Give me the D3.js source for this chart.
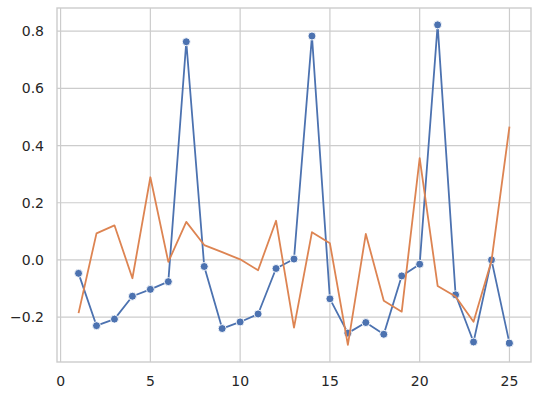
<!DOCTYPE html>
<html>
<head>
<meta charset="utf-8">
<script src="https://cdn.jsdelivr.net/npm/d3@7"></script>
<style>
  html, body { margin: 0; padding: 0; background: #ffffff; }
  svg { display: block; }
</style>
</head>
<body>
<svg id="chart" width="540" height="398"></svg>
<script>
const xValues = [1,2,3,4,5,6,7,8,9,10,11,12,13,14,15,16,17,18,19,20,21,22,23,24,25];
const blueValues = [-0.047,-0.230,-0.207,-0.127,-0.103,-0.076,0.763,-0.023,-0.240,-0.217,-0.189,-0.030,0.003,0.783,-0.136,-0.256,-0.219,-0.260,-0.056,-0.015,0.822,-0.122,-0.287,0.000,-0.291];
const orangeValues = [-0.186,0.093,0.121,-0.064,0.289,-0.007,0.133,0.052,0.027,0.002,-0.036,0.137,-0.237,0.097,0.058,-0.297,0.091,-0.143,-0.181,0.356,-0.091,-0.128,-0.216,-0.003,0.466];
const xTicks = [0,5,10,15,20,25];
const yTicks = [-0.2,0.0,0.2,0.4,0.6,0.8];
const xDomain = [-0.2, 26.2];
const yDomain = [-0.357, 0.881];

const svg = d3.select("#chart");
const m = {left: 57, right: 531, top: 8, bottom: 362};
const x = d3.scaleLinear().domain(xDomain).range([m.left, m.right]);
const y = d3.scaleLinear().domain(yDomain).range([m.bottom, m.top]);

const gridColor = "#cccccc";
const textColor = "#262626";

// grid
svg.append("g").selectAll("line").data(xTicks).join("line")
  .attr("x1", d => x(d)).attr("x2", d => x(d))
  .attr("y1", m.top).attr("y2", m.bottom)
  .attr("stroke", gridColor).attr("stroke-width", 1.2);
svg.append("g").selectAll("line").data(yTicks).join("line")
  .attr("x1", m.left).attr("x2", m.right)
  .attr("y1", d => y(d)).attr("y2", d => y(d))
  .attr("stroke", gridColor).attr("stroke-width", 1.2);

// spines
svg.append("rect")
  .attr("x", m.left).attr("y", m.top)
  .attr("width", m.right - m.left).attr("height", m.bottom - m.top)
  .attr("fill", "none").attr("stroke", gridColor).attr("stroke-width", 1.4);

// tick labels drawn from the scales
const fmtY = d => (d < 0 ? "\u2212" : "") + Math.abs(d).toFixed(1);
svg.append("g").selectAll("text").data(xTicks).join("text")
  .attr("x", d => x(d)).attr("y", m.bottom + 24)
  .attr("text-anchor", "middle")
  .attr("font-family", "DejaVu Sans")
  .attr("font-size", "14px")
  .attr("fill", textColor)
  .text(d => d);
svg.append("g").selectAll("text").data(yTicks).join("text")
  .attr("x", m.left - 13).attr("y", d => y(d))
  .attr("dy", "0.36em")
  .attr("text-anchor", "end")
  .attr("font-family", "DejaVu Sans")
  .attr("font-size", "14px")
  .attr("fill", textColor)
  .text(fmtY);

const blueData = xValues.map((d, i) => ({x: d, y: blueValues[i]}));
const orangeData = xValues.map((d, i) => ({x: d, y: orangeValues[i]}));
const line = d3.line().x(d => x(d.x)).y(d => y(d.y));

// blue line + markers
svg.append("path").datum(blueData).attr("d", line)
  .attr("fill", "none").attr("stroke", "#4C72B0").attr("stroke-width", 1.8)
  .attr("stroke-linejoin", "round");
svg.append("g").selectAll("circle").data(blueData).join("circle")
  .attr("cx", d => x(d.x)).attr("cy", d => y(d.y)).attr("r", 4)
  .attr("fill", "#4C72B0").attr("stroke", "#ffffff").attr("stroke-width", 0.9);

// orange line
svg.append("path").datum(orangeData).attr("d", line)
  .attr("fill", "none").attr("stroke", "#DD8452").attr("stroke-width", 1.8)
  .attr("stroke-linejoin", "round");
</script>
</body>
</html>
